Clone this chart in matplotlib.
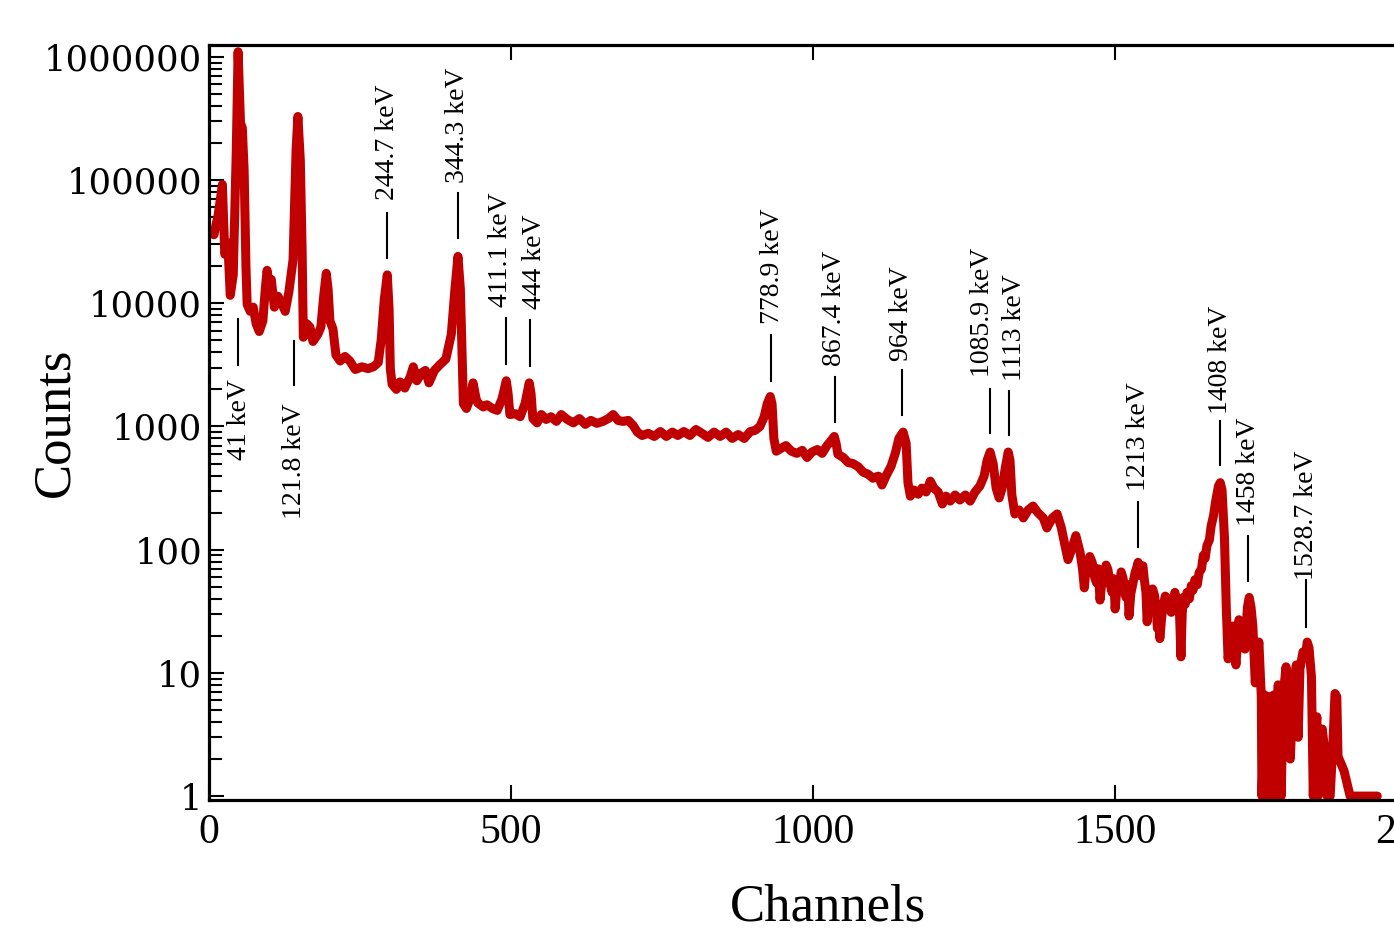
import matplotlib
matplotlib.use("Agg")
import matplotlib.pyplot as plt
from matplotlib.ticker import LogLocator, NullFormatter

# ---------------- data (channel, counts) ----------------
seg_low = [(8, 36000), (15, 52000), (22, 92000), (26, 25000), (31, 31000), (35, 11600),
           (40, 17000), (45, 175000), (48, 1100000), (52, 290000), (55, 265000), (58, 120000),
           (61, 20000), (63, 9800), (68, 8600), (73, 9300), (78, 6800), (83, 5900), (89, 7200),
           (93, 13000), (96, 18500), (99, 14200), (103, 15600), (108, 9300), (114, 11400),
           (121, 9800), (126, 8600), (132, 12300), (139, 22600), (144, 175000), (147, 328000),
           (151, 145000), (154, 27000), (156, 5300), (162, 6800), (167, 6400), (172, 4900),
           (180, 5600), (185, 6400), (190, 11800), (194, 17500), (197, 13000), (200, 7200),
           (205, 6200), (210, 3800), (217, 3400), (225, 3700), (233, 3400), (242, 2900),
           (253, 3050), (263, 2950), (272, 3050), (280, 3300), (285, 5100), (290, 10700),
           (295, 17000), (298, 8900), (300, 2950), (303, 2200), (310, 2000), (316, 2300),
           (324, 2050), (333, 2530), (338, 3050), (344, 2350), (351, 2700), (358, 2850),
           (364, 2260), (373, 2850), (382, 3170), (392, 3530), (401, 5600), (407, 13000),
           (412, 24000), (416, 13000), (419, 3530), (421, 1530), (426, 1400), (432, 1680),
           (437, 2260), (442, 1680), (445, 1550), (454, 1440), (460, 1500), (469, 1400),
           (477, 1350), (485, 1680), (492, 2350), (495, 1850), (498, 1250), (507, 1270),
           (515, 1200), (523, 1530), (530, 2260), (533, 1850), (536, 1160), (543, 1070)]

seg_mid = [(550, 1250), (558, 1140), (566, 1200), (575, 1100), (583, 1250), (593, 1140),
           (603, 1070), (613, 1160), (623, 1040), (632, 1120), (642, 1060), (652, 1100),
           (661, 1160), (669, 1250), (677, 1120), (685, 1100), (694, 1120), (702, 1020),
           (709, 900), (717, 845), (727, 880), (737, 830), (747, 910), (757, 830), (767, 900),
           (776, 845), (786, 910), (796, 845), (806, 945), (816, 880), (826, 815), (836, 900),
           (846, 830), (856, 900), (866, 800), (876, 860), (886, 800), (896, 910), (904, 930),
           (912, 1000), (919, 1200), (924, 1530), (929, 1750), (932, 1530), (935, 800),
           (939, 630), (947, 665), (955, 700), (964, 630), (973, 605), (982, 640), (990, 560),
           (998, 620), (1007, 650), (1015, 605), (1023, 700), (1030, 770), (1035, 830),
           (1038, 730), (1041, 595), (1050, 560), (1058, 510), (1066, 500), (1075, 470),
           (1083, 425), (1091, 410), (1099, 380), (1108, 395), (1114, 335), (1121, 400),
           (1129, 475), (1136, 605), (1142, 800), (1149, 900), (1154, 730), (1157, 350),
           (1161, 272), (1167, 305), (1174, 282), (1180, 316), (1187, 294), (1194, 360),
           (1200, 316), (1207, 294), (1214, 235), (1220, 272), (1227, 248), (1235, 278),
           (1243, 253), (1252, 278), (1260, 248), (1268, 294), (1276, 328), (1283, 395),
           (1288, 530), (1293, 620), (1298, 500), (1303, 316), (1308, 263), (1313, 316),
           (1318, 457), (1323, 620), (1326, 530), (1329, 278), (1334, 195), (1341, 210),
           (1348, 181), (1356, 210), (1364, 226), (1372, 200), (1381, 181), (1387, 150),
           (1396, 181), (1404, 195), (1411, 150), (1416, 114), (1422, 83), (1429, 104),
           (1435, 130), (1442, 95)]

seg_high = [(1446, 70), (1449, 49), (1452, 72), (1455, 65), (1458, 88), (1462, 79),
            (1466, 60), (1469, 54), (1472, 70), (1475, 39), (1479, 62), (1482, 54), (1485, 75),
            (1488, 69), (1492, 52), (1495, 45), (1498, 58), (1500, 33), (1504, 55), (1507, 48),
            (1510, 66), (1513, 59), (1516, 47), (1518, 41), (1521, 52), (1523, 29), (1526, 44),
            (1528, 49), (1531, 58), (1533, 65), (1536, 72), (1538, 79), (1541, 62), (1543, 69),
            (1546, 74), (1548, 59), (1551, 45), (1553, 26), (1556, 40), (1558, 37), (1562, 48),
            (1565, 43), (1568, 33), (1570, 23), (1572, 30), (1574, 19), (1577, 28), (1579, 34),
            (1583, 42), (1586, 39), (1590, 33), (1593, 31), (1596, 40), (1599, 45), (1603, 35),
            (1606, 37), (1609, 13.5), (1611, 30), (1613, 41), (1616, 36), (1619, 45), (1623, 40),
            (1626, 51), (1629, 47), (1632, 57), (1636, 52), (1639, 65), (1643, 70), (1646, 90),
            (1649, 85), (1652, 108), (1656, 120), (1659, 156), (1663, 190), (1666, 240),
            (1669, 290), (1671, 328), (1674, 350), (1677, 305),
            (1681, 125), (1684, 34), (1687, 13), (1692, 19.5), (1695, 24), (1700, 11.6),
            (1705, 27), (1710, 21), (1715, 15.6), (1719, 34), (1722, 41), (1725, 34), (1728, 24),
            (1732, 8.3), (1735, 13.5), (1738, 17.8), (1742, 6.4), (1743, 1), (1748, 6.6),
            (1752, 1), (1755, 6.4), (1758, 1), (1762, 6.6), (1765, 1), (1770, 8), (1775, 1),
            (1778, 6.4), (1783, 11.2), (1786, 6.4), (1790, 2), (1795, 7.7), (1800, 11.6),
            (1803, 3), (1806, 10.8), (1811, 14.8), (1815, 13.5), (1818, 17.8), (1821, 16),
            (1825, 9.3), (1828, 1), (1831, 3), (1834, 4.4), (1836, 1), (1843, 3.5), (1848, 2.1),
            (1851, 1), (1856, 1), (1861, 3), (1864, 6.8), (1867, 6.4), (1869, 2.1), (1879, 1.6),
            (1889, 1), (1934, 1)]

annot_labels = ['41 keV', '121.8 keV', '244.7 keV', '344.3 keV', '411.1 keV', '444 keV',
                '778.9 keV', '867.4 keV', '964 keV', '1085.9 keV', '1113 keV', '1213 keV',
                '1408 keV', '1458 keV', '1528.7 keV']
annot_channels = [48, 141, 295, 412, 492, 532, 931, 1036, 1147, 1293, 1325, 1538, 1674, 1720, 1816]
annot_text_channels = [51, 142, 295, 412, 482, 538, 932, 1036, 1147, 1281, 1334, 1538, 1674, 1721, 1816]
annot_line_lo = [3160, 2180, 23500, 34000, 3220, 3100, 2350, 1097, 1250, 879, 846, 106, 485, 56, 23.5]
annot_line_hi = [7430, 4940, 54200, 78500, 7570, 7290, 5520, 2530, 2880, 2025, 1950, 244, 1118, 130, 57]
annot_text_y = [2440, 1530, 69000, 94600, 9290, 8950, 6770, 3100, 3410, 2530, 2350, 299, 1273, 156, 57]
annot_below = [True, True] + [False] * 13

x_ticks = [0, 500, 1000, 1500, 2000]
x_tick_labels = ['0', '500', '1000', '1500', '2000']
y_ticks = [1, 10, 100, 1000, 10000, 100000, 1000000]
y_tick_labels = ['1', '10', '100', '1000', '10000', '100000', '1000000']

# ---------------- plot ----------------
spectrum = seg_low + seg_mid + seg_high
channels = [p[0] for p in spectrum]
counts = [p[1] for p in spectrum]

plt.rcParams['font.family'] = ['DejaVu Serif']
fig = plt.figure(figsize=(13.94, 9.34), dpi=100)
ax = fig.add_axes([0.15, 0.1435, 0.8874, 0.8084])

ax.plot(channels, counts, color='#c00000', lw=6.5,
        solid_joinstyle='round', solid_capstyle='round', zorder=2)

ax.set_yscale('log')
ax.set_xlim(0, 2048)
ax.set_ylim(0.93, 1.25e6)

ax.set_xticks(x_ticks)
ax.set_xticklabels(x_tick_labels, fontfamily='Liberation Serif', fontsize=30)
ax.set_yticks(y_ticks)
ax.set_yticklabels(y_tick_labels, fontfamily='DejaVu Serif', fontsize=25.5)
ax.yaxis.set_minor_locator(LogLocator(base=10, subs=range(2, 10), numticks=20))
ax.yaxis.set_minor_formatter(NullFormatter())
ax.xaxis.set_minor_locator(plt.NullLocator())

ax.tick_params(which='both', direction='in', top=True, right=True, width=1.5, colors='black')
ax.tick_params(which='major', length=11)
ax.tick_params(which='minor', length=9)
ax.tick_params(axis='x', pad=10)
ax.tick_params(axis='y', pad=5)
for s in ax.spines.values():
    s.set_linewidth(2.3)

ax.set_xlabel('Channels', fontfamily='Liberation Serif', fontsize=38)
ax.xaxis.set_label_coords(0.5, -0.11)
ax.set_ylabel('Counts', fontfamily='Liberation Serif', fontsize=38)
ax.yaxis.set_label_coords(-0.105, 0.5)

for lab, c, tc, lo, hi, ty, below in zip(annot_labels, annot_channels, annot_text_channels,
                                         annot_line_lo, annot_line_hi, annot_text_y, annot_below):
    ax.plot([c, c], [lo, hi], color='black', lw=1.5, zorder=3)
    ax.text(tc, ty, lab, rotation=90, ha='center', va='top' if below else 'bottom',
            fontfamily='Liberation Serif', fontsize=20, zorder=3)

fig.savefig('out.png', dpi=100)
